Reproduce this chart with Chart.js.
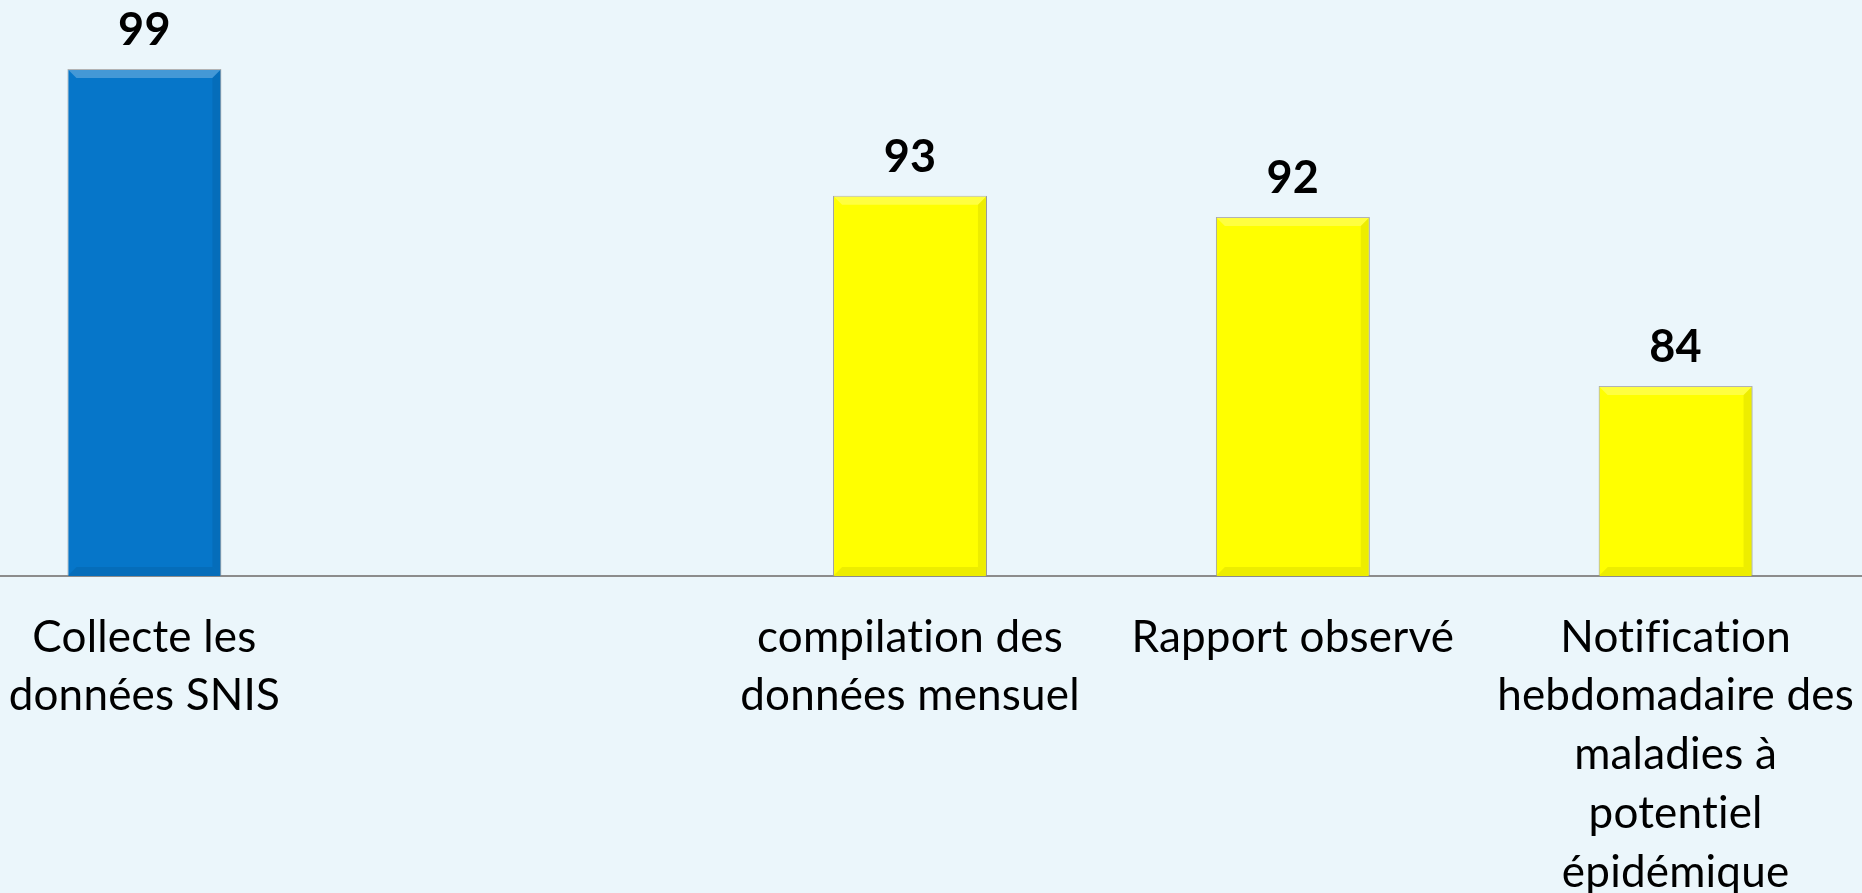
<!DOCTYPE html>
<html>
<head>
<meta charset="utf-8">
<script src="https://cdn.jsdelivr.net/npm/chart.js@4.4.1/dist/chart.umd.min.js"></script>
<style>
  html, body { margin: 0; padding: 0; background: #EBF6FB; overflow: hidden; }
  #wrap { position: absolute; left: -47px; top: 0; width: 1914px; height: 893px; }
</style>
</head>
<body>
<div id="wrap"><canvas id="chart"></canvas></div>
<script>
  const categories = [
    ['Collecte les', 'données SNIS'],
    '',
    ['compilation des', 'données mensuel'],
    'Rapport observé',
    ['Notification', 'hebdomadaire des', 'maladies à', 'potentiel', 'épidémique']
  ];
  const values = [99, null, 93, 92, 84];

  const barColors = ['#0676C9', '#0676C9', '#FFFF00', '#FFFF00', '#FFFF00'];
  const FONT = 'Lato, "Open Sans", sans-serif';

  // no "ti" ligatures, like the original font
  const noLigatures = {
    id: 'noLigatures',
    beforeDraw(chart) {
      chart.ctx.letterSpacing = '0.2px';
    }
  };

  // value labels above each bar
  const valueLabels = {
    id: 'valueLabels',
    afterDatasetsDraw(chart) {
      const ctx = chart.ctx;
      const meta = chart.getDatasetMeta(0);
      ctx.save();
      ctx.fillStyle = '#000';
      ctx.font = 'bold 45px ' + FONT;
      ctx.textAlign = 'center';
      ctx.textBaseline = 'alphabetic';
      meta.data.forEach((bar, i) => {
        if (values[i] == null) return;
        ctx.fillText(values[i], bar.x, bar.y - 24);
      });
      ctx.restore();
    }
  };

  // light bevel on the bars
  const bevel = {
    id: 'bevel',
    afterDatasetsDraw(chart) {
      const ctx = chart.ctx;
      const meta = chart.getDatasetMeta(0);
      ctx.save();
      meta.data.forEach((bar, i) => {
        if (values[i] == null) return;
        const l = bar.x - bar.width / 2, r = bar.x + bar.width / 2;
        const t = bar.y, b = Math.min(bar.base, chart.chartArea.bottom), d = 9;
        ctx.fillStyle = 'rgba(255,255,255,0.25)';
        ctx.beginPath();
        ctx.moveTo(l, t); ctx.lineTo(r, t); ctx.lineTo(r - d, t + d); ctx.lineTo(l + d, t + d);
        ctx.closePath(); ctx.fill();
        ctx.fillStyle = 'rgba(0,0,0,0.07)';
        ctx.beginPath();
        ctx.moveTo(r, t); ctx.lineTo(r, b); ctx.lineTo(r - d, b - d); ctx.lineTo(r - d, t + d);
        ctx.closePath(); ctx.fill();
        ctx.beginPath();
        ctx.moveTo(l, b); ctx.lineTo(r, b); ctx.lineTo(r - d, b - d); ctx.lineTo(l + d, b - d);
        ctx.closePath(); ctx.fill();
      });
      ctx.restore();
    }
  };

  new Chart(document.getElementById('chart'), {
    type: 'bar',
    data: {
      labels: categories,
      datasets: [{
        data: values,
        backgroundColor: barColors,
        borderColor: '#9A9A9A',
        borderWidth: 1,
        barPercentage: 0.402,
        categoryPercentage: 1
      }]
    },
    options: {
      responsive: true,
      maintainAspectRatio: false,
      animation: false,
      layout: { padding: { top: 48, left: 0, right: 0, bottom: 0 } },
      plugins: {
        legend: { display: false },
        tooltip: { enabled: false }
      },
      scales: {
        x: {
          grid: { display: true, drawOnChartArea: false, drawTicks: true, tickLength: 32, tickColor: 'rgba(0,0,0,0)' },
          border: { display: true, color: '#8C8C8C', width: 2 },
          ticks: {
            color: '#000',
            autoSkip: false,
            maxRotation: 0,
            padding: 0,
            font: { family: FONT, size: 44, lineHeight: 1.336 }
          },
          afterFit(scale) { scale.height = 317; }
        },
        y: {
          display: false,
          min: 75,
          max: 100
        }
      }
    },
    plugins: [noLigatures, bevel, valueLabels]
  });
</script>
</body>
</html>
